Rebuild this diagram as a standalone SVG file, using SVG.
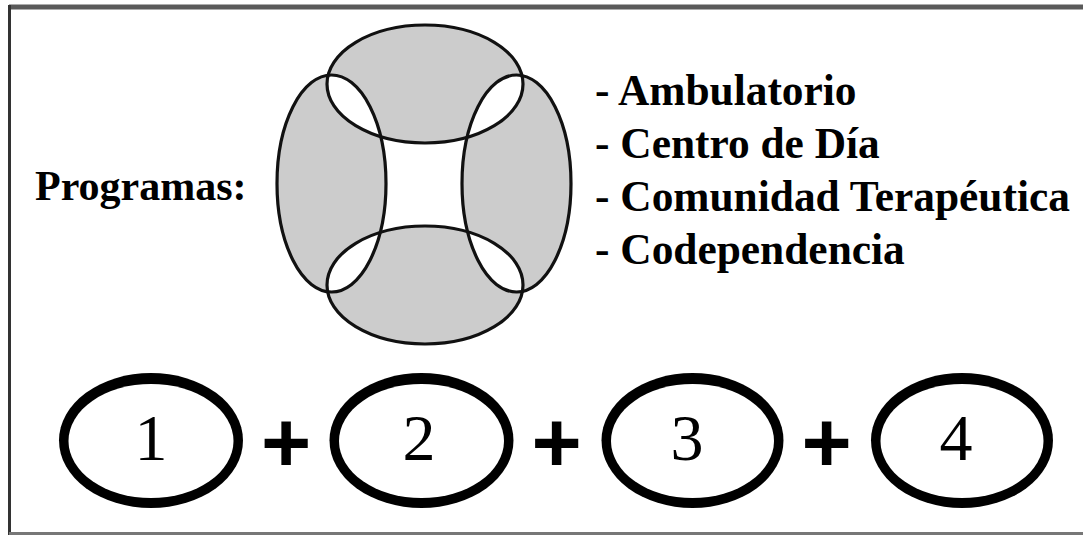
<svg xmlns="http://www.w3.org/2000/svg" width="1083" height="535" viewBox="0 0 1083 535">
<style>
.lbl{font-family:"Liberation Serif","Times New Roman",serif;font-weight:bold;fill:#000}
.num{font-family:"Liberation Serif","Times New Roman",serif;font-size:66px;fill:#000;text-anchor:middle}
.plus{font-family:"Liberation Sans",Arial,sans-serif;font-weight:bold;font-size:86px;fill:#000;text-anchor:middle}
.ring{fill:none;stroke:#111;stroke-width:3.2}
.outer{fill:#000}
.inner{fill:#fff}
</style>
<rect x="0" y="0" width="1083" height="535" fill="#fff"/>
<line x1="9" y1="7" x2="1083" y2="7" stroke="#5a5a5a" stroke-width="5"/>
<line x1="9.5" y1="5" x2="9.5" y2="535" stroke="#333" stroke-width="3"/>
<line x1="9" y1="533.5" x2="1083" y2="533.5" stroke="#777" stroke-width="3"/>

<g id="programs-figure">
<path fill="#cccccc" fill-rule="evenodd" d="M327,84 a98,59 0 1,0 196,0 a98,59 0 1,0 -196,0 Z M327,285 a98,59 0 1,0 196,0 a98,59 0 1,0 -196,0 Z M277,183.5 a54.5,108.5 0 1,0 109,0 a54.5,108.5 0 1,0 -109,0 Z M462,183.5 a54.5,108.5 0 1,0 109,0 a54.5,108.5 0 1,0 -109,0 Z"/>
<ellipse class="ring" cx="425" cy="84" rx="98" ry="59"/>
<ellipse class="ring" cx="425" cy="285" rx="98" ry="59"/>
<ellipse class="ring" cx="331.5" cy="183.5" rx="54.5" ry="108.5"/>
<ellipse class="ring" cx="516.5" cy="183.5" rx="54.5" ry="108.5"/>
</g>

<g id="programas-label">
<text class="lbl" x="35" y="200" font-size="42">Programas:</text>
</g>

<g id="program-list">
<text class="lbl" x="595" y="105" font-size="43.4">- Ambulatorio</text>
<text class="lbl" x="595" y="158" font-size="43.4">- Centro de Día</text>
<text class="lbl" x="595" y="211" font-size="43.4">- Comunidad Terapéutica</text>
<text class="lbl" x="595" y="264" font-size="43.4">- Codependencia</text>
</g>

<g id="node-1">
<ellipse class="outer" cx="151" cy="440.5" rx="92" ry="67.5"/>
<ellipse class="inner" cx="151" cy="441" rx="82.5" ry="57"/>
<text class="num" x="151" y="460">1</text>
</g>
<g id="node-2">
<ellipse class="outer" cx="421.5" cy="440.5" rx="92" ry="67.5"/>
<ellipse class="inner" cx="421.5" cy="441" rx="82.5" ry="57"/>
<text class="num" x="419" y="460">2</text>
</g>
<g id="node-3">
<ellipse class="outer" cx="692.5" cy="440.5" rx="91" ry="67.5"/>
<ellipse class="inner" cx="692.5" cy="441" rx="81.5" ry="57"/>
<text class="num" x="687" y="460">3</text>
</g>
<g id="node-4">
<ellipse class="outer" cx="962" cy="440.5" rx="91" ry="67.5"/>
<ellipse class="inner" cx="962" cy="441" rx="81.5" ry="57"/>
<text class="num" x="956" y="460">4</text>
</g>

<g id="connectors">
<text class="plus" x="286" y="472">+</text>
<text class="plus" x="556.5" y="472">+</text>
<text class="plus" x="826.5" y="472">+</text>
</g>
</svg>
